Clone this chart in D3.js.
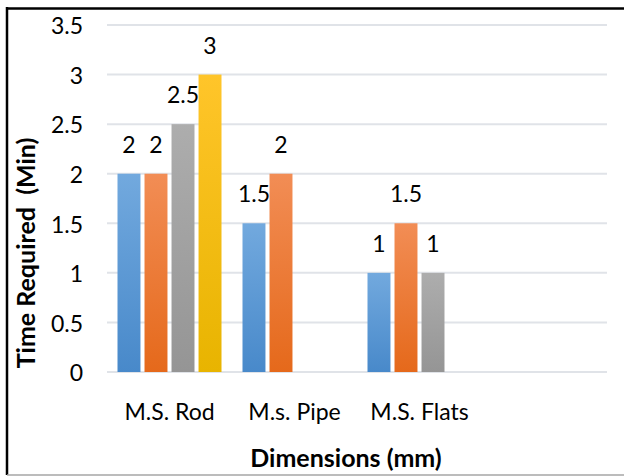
<!DOCTYPE html>
<html>
<head>
<meta charset="utf-8">
<script src="https://cdn.jsdelivr.net/npm/d3@7"></script>
<style>
  body { margin: 0; background: #fff; }
  text { font-family: Lato, "Open Sans", sans-serif; fill: #000; }
</style>
</head>
<body>
<script>
// Chart data
var categories = ['M.S. Rod', 'M.s. Pipe', 'M.S. Flats', ''];
var series_names = ['s1', 's2', 's3', 's4'];
// values[series][category], null where no bar is drawn
var values = [
    [2, 1.5, 1, null],
    [2, 2, 1.5, null],
    [2.5, null, 1, null],
    [3, null, null, null]
];
var y_ticks = [0, 0.5, 1, 1.5, 2, 2.5, 3, 3.5];

var colors = [
    { top: '#72a9de', bottom: '#4889ca' },
    { top: '#f28d55', bottom: '#e5691b' },
    { top: '#adadad', bottom: '#959595' },
    { top: '#ffc52a', bottom: '#e8b400' }
];

var width = 624, height = 476;
var label_size = '23px';
var title_size = '25px';

var svg = d3.select('body').append('svg')
    .attr('width', width)
    .attr('height', height);

// Gradients for bars
var defs = svg.append('defs');
colors.forEach(function (c, i) {
    var g = defs.append('linearGradient')
        .attr('id', 'grad' + i)
        .attr('x1', 0).attr('y1', 0)
        .attr('x2', 0).attr('y2', 1);
    g.append('stop').attr('offset', '0%').attr('stop-color', c.top);
    g.append('stop').attr('offset', '100%').attr('stop-color', c.bottom);
});

// Scales
var x0 = d3.scaleBand()
    .domain(d3.range(categories.length))
    .range([107, 607]);

var x1 = d3.scaleBand()
    .domain(d3.range(series_names.length))
    .range([10.5, x0.bandwidth() - 10.5])
    .paddingInner(0.15);

var y = d3.scaleLinear()
    .domain([0, 3.5])
    .range([372, 25]);

// Gridlines
svg.append('g').selectAll('line')
    .data(y_ticks)
    .enter().append('line')
    .attr('x1', 107).attr('x2', 607)
    .attr('y1', function (d) { return y(d); })
    .attr('y2', function (d) { return y(d); })
    .attr('stroke', '#e0e3e8')
    .attr('stroke-width', 2);

// Y axis tick labels
var yAxis = d3.axisLeft(y)
    .tickValues(y_ticks)
    .tickSize(0)
    .tickPadding(0)
    .tickFormat(function (d) { return d; });

var ya = svg.append('g')
    .attr('transform', 'translate(83,0)')
    .call(yAxis);
ya.select('.domain').remove();
ya.selectAll('text')
    .attr('dy', '0.38em')
    .style('font-size', label_size)
    .style('font-family', 'Lato, sans-serif')
    .attr('fill', '#000');

// X axis category labels
var xAxis = d3.axisBottom(x0)
    .tickSize(0)
    .tickPadding(0)
    .tickFormat(function (i) { return categories[i]; });

var xa = svg.append('g')
    .attr('transform', 'translate(0,400)')
    .call(xAxis);
xa.select('.domain').remove();
xa.selectAll('text')
    .attr('dy', null)
    .attr('y', 20)
    .style('font-size', label_size)
    .style('font-family', 'Lato, sans-serif')
    .attr('fill', '#000');

// Bars
var bar_data = [];
values.forEach(function (row, s) {
    row.forEach(function (v, c) {
        if (v !== null) {
            bar_data.push({ s: s, c: c, v: v });
        }
    });
});

var bars = svg.append('g');
bars.selectAll('rect')
    .data(bar_data)
    .enter().append('rect')
    .attr('x', function (d) { return x0(d.c) + x1(d.s); })
    .attr('y', function (d) { return y(d.v); })
    .attr('width', x1.bandwidth())
    .attr('height', function (d) { return y(0) - y(d.v); })
    .attr('fill', function (d) { return 'url(#grad' + d.s + ')'; });

// Data labels
bars.selectAll('text')
    .data(bar_data)
    .enter().append('text')
    .attr('x', function (d) { return x0(d.c) + x1(d.s) + x1.bandwidth() / 2; })
    .attr('y', function (d) { return y(d.v) - 21; })
    .attr('text-anchor', 'middle')
    .style('font-size', label_size)
    .text(function (d) { return d.v; });

// Axis titles
svg.append('text')
    .attr('x', 346)
    .attr('y', 467)
    .attr('text-anchor', 'middle')
    .style('font-size', title_size)
    .style('font-weight', 'bold')
    .text('Dimensions (mm)');

svg.append('text')
    .attr('transform', 'translate(35,253) rotate(-90)')
    .attr('text-anchor', 'middle')
    .style('font-size', title_size)
    .style('font-weight', 'bold')
    .style('white-space', 'pre')
    .text('Time Required  (Min)');

// Frame
svg.append('line')
    .attr('x1', 6).attr('x2', width)
    .attr('y1', 8.5).attr('y2', 8.5)
    .attr('stroke', '#000').attr('stroke-width', 2.5);
svg.append('line')
    .attr('x1', 7).attr('x2', 7)
    .attr('y1', 7).attr('y2', 475)
    .attr('stroke', '#000').attr('stroke-width', 2.5);
svg.append('line')
    .attr('x1', 7).attr('x2', width)
    .attr('y1', 475).attr('y2', 475)
    .attr('stroke', '#a6a6a6').attr('stroke-width', 1.5);
</script>
</body>
</html>
